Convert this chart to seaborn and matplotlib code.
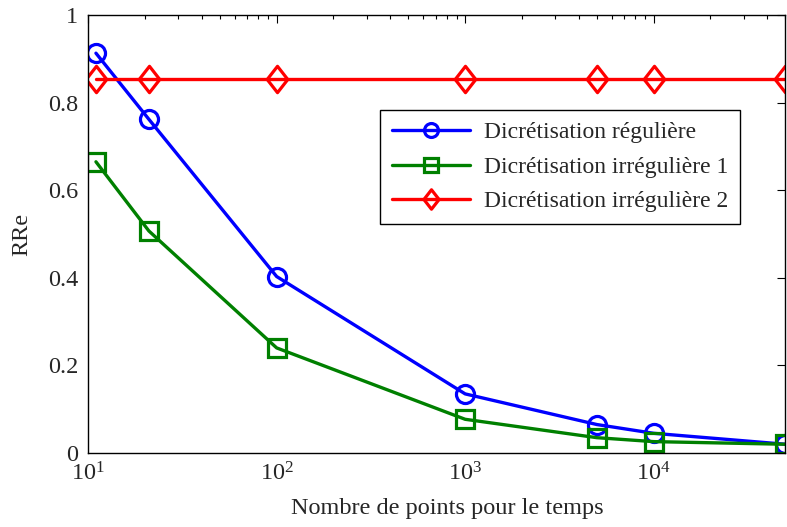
"""
Relative error RRe versus the number of time points, for three discretisations.
Saves out.png (787x527).
"""
import matplotlib

matplotlib.use("Agg")
import matplotlib.pyplot as plt
import pandas as pd
import seaborn as sns
from matplotlib.path import Path
from matplotlib.ticker import LogLocator, NullFormatter

# ---- Data ------------------------------------------------------------------ #
n_points = [11, 21, 100, 1000, 5000, 10000, 50000]
rre_reguliere = [0.913, 0.762, 0.403, 0.135, 0.065, 0.045, 0.020]
rre_irreguliere_1 = [0.665, 0.507, 0.240, 0.077, 0.035, 0.026, 0.020]
rre_irreguliere_2 = [0.853, 0.853, 0.853, 0.853, 0.853, 0.853, 0.853]

# MATLAB-like diamond: a bit narrower than tall
diamond = Path([(0, 1), (0.78, 0), (0, -1), (-0.78, 0), (0, 1)],
               [Path.MOVETO, Path.LINETO, Path.LINETO, Path.LINETO, Path.CLOSEPOLY])

series = [
    ("Dicrétisation régulière", rre_reguliere, "#0000ff", "o", 13),
    ("Dicrétisation irrégulière 1", rre_irreguliere_1, "#008000", "s", 12.5),
    ("Dicrétisation irrégulière 2", rre_irreguliere_2, "#ff0000", diamond, 19),
]

sns.set_style("white")
plt.rcParams["font.family"] = ["Liberation Serif", "DejaVu Serif"]
plt.rcParams["mathtext.fontset"] = "custom"
plt.rcParams["mathtext.rm"] = "Liberation Serif"

fig = plt.figure(figsize=(7.87, 5.27), dpi=100)
ax = fig.add_axes([0.112, 0.1404, 0.886, 0.831])

for label, values, color, marker, msize in series:
    df = pd.DataFrame({"N": n_points, "RRe": values})
    sns.lineplot(
        data=df, x="N", y="RRe", ax=ax, color=color, label=label,
        linewidth=2.4, marker=marker, markersize=msize,
        markerfacecolor="none", markeredgecolor=color, markeredgewidth=2.3,
    )

ax.set_xscale("log")
ax.set_xlim(10, 5e4)
ax.set_ylim(0, 1)
ax.set_yticks([0, 0.2, 0.4, 0.6, 0.8, 1])
ax.set_yticklabels(["0", "0.2", "0.4", "0.6", "0.8", "1"])
ax.xaxis.set_major_locator(LogLocator(base=10, numticks=10))
ax.xaxis.set_minor_locator(LogLocator(base=10, subs=range(2, 10), numticks=50))
ax.xaxis.set_minor_formatter(NullFormatter())

ax.set_xlabel("Nombre de points pour le temps", fontsize=17.5, labelpad=9)
ax.xaxis.label.set_x(0.515)
ax.set_ylabel("RRe", fontsize=17.5, labelpad=11)

ax.tick_params(which="both", direction="in", top=True, right=True,
               labelsize=17.5, width=0.8, color="black")
ax.tick_params(which="major", length=6, pad=7)
ax.tick_params(which="minor", length=3)
for spine in ax.spines.values():
    spine.set_color("black")
    spine.set_linewidth(1.0)

leg = ax.legend(loc="upper left", bbox_to_anchor=(0.419, 0.783), fontsize=17,
                handlelength=3.3, borderaxespad=0, fancybox=False,
                framealpha=1, edgecolor="black", borderpad=0.5,
                labelspacing=0.55, handletextpad=0.6)
leg.get_frame().set_linewidth(1.0)
for handle, size in zip(leg.legend_handles, [10, 10, 14]):
    handle.set_markersize(size)

fig.savefig("out.png", dpi=100)
plt.close(fig)
